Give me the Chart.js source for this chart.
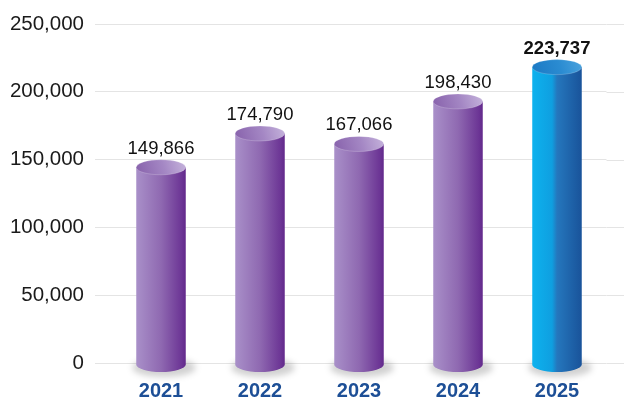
<!DOCTYPE html>
<html>
<head>
<meta charset="utf-8">
<script src="https://cdn.jsdelivr.net/npm/chart.js@4"></script>
<style>
  html, body { margin: 0; padding: 0; background: #fff; }
</style>
</head>
<body>
<canvas id="chart" width="624" height="403"></canvas>
<script>
/* global Chart */

const years = ['2021', '2022', '2023', '2024', '2025']
const values = [149866, 174790, 167066, 198430, 223737]
const highlight = [false, false, false, false, true]

const fmt = v => v.toLocaleString('en-US')

const purple = {
  body: [[0, '#a990c9'], [0.5, '#8f69b1'], [0.92, '#6c3595'], [1, '#62298b']],
  top: [[0, '#8761ab'], [0.55, '#a487c4'], [1, '#c6b4dc']]
}
const blue = {
  body: [[0, '#0db2ee'], [0.4, '#0f9fe0'], [0.5, '#2577bd'], [1, '#19539a']],
  top: [[0, '#1b79c4'], [0.55, '#2a8bd1'], [1, '#4ba3de']]
}

const grad = (ctx, x0, y0, x1, y1, stops) => {
  const g = ctx.createLinearGradient(x0, y0, x1, y1)
  stops.forEach(([o, c]) => g.addColorStop(o, c))
  return g
}

const RY = 7.5

function drawCylinder (ctx, x, valueY, base, w, pal) {
  const rx = w / 2
  const l = x - rx
  const r = x + rx
  const top = valueY + RY
  const bottom = base + 2

  // soft floor shadow
  ctx.save()
  ctx.filter = 'blur(3px)'
  ctx.fillStyle = 'rgba(0,0,0,0.18)'
  ctx.beginPath()
  ctx.ellipse(x + 3, bottom + 3, rx + 7, RY + 2, 0, 0, 2 * Math.PI)
  ctx.fill()
  ctx.restore()

  // body
  ctx.save()
  ctx.fillStyle = grad(ctx, l, 0, r, 0, pal.body)
  ctx.beginPath()
  ctx.moveTo(l, top)
  ctx.lineTo(l, bottom)
  ctx.ellipse(x, bottom, rx, RY, 0, Math.PI, 0, true)
  ctx.lineTo(r, top)
  ctx.closePath()
  ctx.fill()

  // top cap
  ctx.fillStyle = grad(ctx, l, top + RY, r, top - RY, pal.top)
  ctx.beginPath()
  ctx.ellipse(x, top, rx, RY, 0, 0, 2 * Math.PI)
  ctx.fill()
  ctx.strokeStyle = 'rgba(255,255,255,0.2)'
  ctx.lineWidth = 1
  ctx.stroke()
  ctx.restore()
}

const cylinders = {
  id: 'cylinders',
  beforeDatasetsDraw (chart) {
    // grid lines run on to the right edge of the picture
    const { ctx, chartArea, scales } = chart
    ctx.save()
    ctx.strokeStyle = '#e4e4e4'
    ctx.lineWidth = 1
    scales.y.ticks.forEach((t, i) => {
      const py = Math.round(scales.y.getPixelForTick(i)) + 0.5
      ctx.beginPath()
      ctx.moveTo(chartArea.right, py)
      ctx.lineTo(chart.width, py)
      ctx.stroke()
    })
    ctx.restore()
  },
  afterDatasetsDraw (chart) {
    const { ctx } = chart
    const meta = chart.getDatasetMeta(0)
    meta.data.forEach((bar, i) => {
      const { x, y, base, width } = bar.getProps(['x', 'y', 'base', 'width'], true)
      drawCylinder(ctx, x, y, base, width, highlight[i] ? blue : purple)
      ctx.save()
      ctx.fillStyle = '#111'
      ctx.font = (highlight[i] ? 'bold ' : '') + '18.5px "Liberation Sans", Arial, sans-serif'
      ctx.textAlign = 'center'
      ctx.textBaseline = 'alphabetic'
      ctx.fillText(fmt(values[i]), x, y - 6)
      ctx.restore()
    })
  }
}

new Chart(document.getElementById('chart').getContext('2d'), {
  type: 'bar',
  data: {
    labels: years,
    datasets: [{
      data: values,
      backgroundColor: 'rgba(0,0,0,0)',
      barPercentage: 0.5,
      categoryPercentage: 1
    }]
  },
  options: {
    responsive: false,
    animation: false,
    layout: { padding: { top: 24, right: 17.5, left: 0, bottom: 0 } },
    plugins: { legend: { display: false }, tooltip: { enabled: false } },
    scales: {
      x: {
        grid: { display: false, drawTicks: false },
        border: { display: false },
        ticks: {
          padding: 16,
          color: '#1d4f96',
          font: { family: '"Liberation Sans", Arial, sans-serif', size: 20, weight: 'bold' }
        },
        afterFit: s => { s.height = 40 }
      },
      y: {
        min: 0,
        max: 250000,
        grid: { color: '#e4e4e4', tickLength: 16.5 },
        border: { display: false },
        ticks: {
          stepSize: 50000,
          padding: 11,
          color: '#1a1a1a',
          font: { family: '"Liberation Sans", Arial, sans-serif', size: 20.5 },
          callback: v => fmt(v)
        },
        afterFit: s => { s.width = 111.5 }
      }
    }
  },
  plugins: [cylinders]
})
</script>
</body>
</html>
